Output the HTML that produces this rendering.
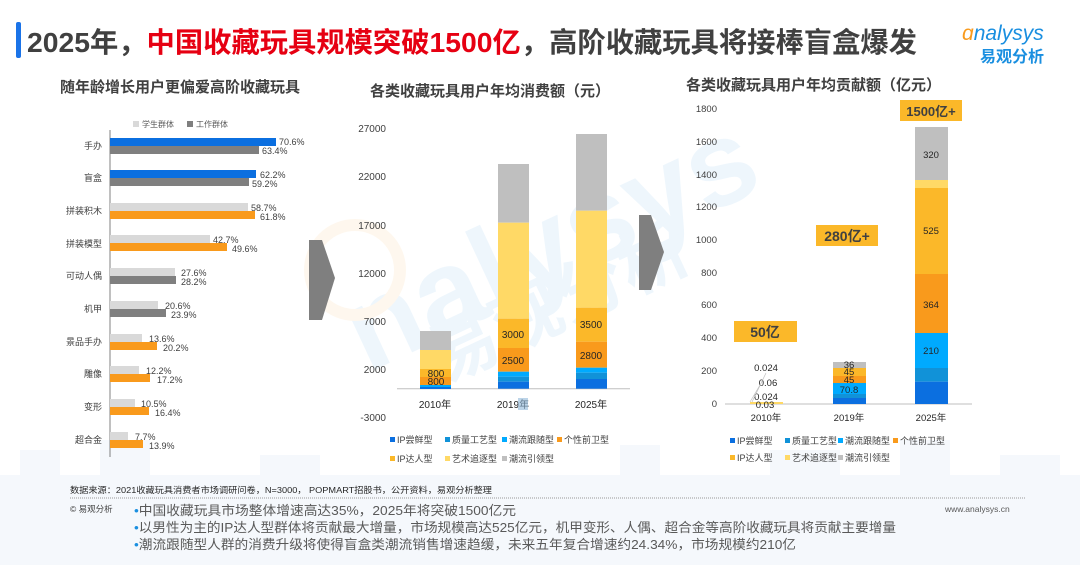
<!DOCTYPE html>
<html><head><meta charset="utf-8"><style>
body{margin:0;width:1080px;height:565px;background:#fff;overflow:hidden;font-family:"Liberation Sans","Noto Sans CJK SC",sans-serif;}
svg{position:absolute;left:0;top:0}
text{font-family:"Liberation Sans","Noto Sans CJK SC",sans-serif}
</style></head><body>
<svg width="1080" height="565" viewBox="0 0 1080 565">
<!-- background buildings -->
<g fill="#f5f8fc">
<rect x="0" y="475" width="1080" height="90"/>
<rect x="20" y="450" width="40" height="25"/><rect x="100" y="440" width="50" height="35"/>
<rect x="260" y="455" width="60" height="20"/><rect x="620" y="445" width="40" height="30"/>
<rect x="770" y="450" width="70" height="25"/><rect x="900" y="440" width="50" height="35"/><rect x="1000" y="455" width="60" height="20"/>
</g>
<!-- watermark -->
<g opacity="0.07">
<text x="330" y="315" font-size="120" font-weight="bold" fill="#1a8fe0" transform="rotate(-25 480 260)">nalysys</text>
<text x="410" y="360" font-size="70" font-weight="bold" fill="#1a8fe0" transform="rotate(-25 480 300)">易观分析</text>
<circle cx="355" cy="270" r="45" fill="none" stroke="#f99a1c" stroke-width="12"/>
</g>
<!-- title -->
<rect x="16" y="22" width="5" height="36" rx="2" fill="#1a73e8"/>
<text x="27" y="52" font-size="28" font-weight="bold" fill="#404040" textLength="890" lengthAdjust="spacingAndGlyphs">2025年，<tspan fill="#e60012">中国收藏玩具规模突破1500亿</tspan>，高阶收藏玩具将接棒盲盒爆发</text>
<!-- logo -->
<text x="962" y="40" font-size="21" font-style="italic" fill="#1a8fe0"><tspan fill="#f99a1c">ɑ</tspan>nalysys</text>
<text x="980" y="62" font-size="16" font-weight="bold" fill="#1a8fe0">易观分析</text>
<!-- subtitles -->
<text x="60" y="92" font-size="15" font-weight="bold" fill="#404040">随年龄增长用户更偏爱高阶收藏玩具</text>
<text x="370" y="96" font-size="15" font-weight="bold" fill="#404040">各类收藏玩具用户年均消费额（元）</text>
<text x="686" y="90" font-size="15" font-weight="bold" fill="#404040">各类收藏玩具用户年均贡献额（亿元）</text>

<!-- LEFT CHART -->
<rect x="133" y="121" width="6" height="6" fill="#d9d9d9"/><text x="142" y="127" font-size="8" fill="#595959">学生群体</text>
<rect x="187" y="121" width="6" height="6" fill="#7f7f7f"/><text x="196" y="127" font-size="8" fill="#595959">工作群体</text>
<line x1="110" y1="130" x2="110" y2="457" stroke="#808080" stroke-width="1"/>
<g font-size="9" fill="#404040">
<g text-anchor="end">
<text x="102" y="149">手办</text><text x="102" y="181">盲盒</text><text x="102" y="214">拼装积木</text><text x="102" y="247">拼装模型</text><text x="102" y="279">可动人偶</text><text x="102" y="312">机甲</text><text x="102" y="345">景品手办</text><text x="102" y="377">雕像</text><text x="102" y="410">变形</text><text x="102" y="443">超合金</text>
</g>
<rect x="110" y="138" width="166" height="8" fill="#0b6fe0"/><rect x="110" y="146" width="149" height="8" fill="#7f7f7f"/>
<text x="279" y="145" font-size="9">70.6%</text><text x="262" y="154" font-size="9">63.4%</text>
<rect x="110" y="170" width="146" height="8" fill="#0b6fe0"/><rect x="110" y="178" width="139" height="8" fill="#7f7f7f"/>
<text x="260" y="178">62.2%</text><text x="252" y="187">59.2%</text>
<rect x="110" y="203" width="138" height="8" fill="#d9d9d9"/><rect x="110" y="211" width="145" height="8" fill="#f99a1c"/>
<text x="251" y="211">58.7%</text><text x="260" y="220">61.8%</text>
<rect x="110" y="235" width="100" height="8" fill="#d9d9d9"/><rect x="110" y="243" width="117" height="8" fill="#f99a1c"/>
<text x="213" y="243">42.7%</text><text x="232" y="252">49.6%</text>
<rect x="110" y="268" width="65" height="8" fill="#d9d9d9"/><rect x="110" y="276" width="66" height="8" fill="#7f7f7f"/>
<text x="181" y="276">27.6%</text><text x="181" y="285">28.2%</text>
<rect x="110" y="301" width="48" height="8" fill="#d9d9d9"/><rect x="110" y="309" width="56" height="8" fill="#7f7f7f"/>
<text x="165" y="309">20.6%</text><text x="171" y="318">23.9%</text>
<rect x="110" y="334" width="32" height="8" fill="#d9d9d9"/><rect x="110" y="342" width="47" height="8" fill="#f99a1c"/>
<text x="149" y="342">13.6%</text><text x="163" y="351">20.2%</text>
<rect x="110" y="366" width="29" height="8" fill="#d9d9d9"/><rect x="110" y="374" width="40" height="8" fill="#f99a1c"/>
<text x="146" y="374">12.2%</text><text x="157" y="383">17.2%</text>
<rect x="110" y="399" width="25" height="8" fill="#d9d9d9"/><rect x="110" y="407" width="39" height="8" fill="#f99a1c"/>
<text x="141" y="407">10.5%</text><text x="155" y="416">16.4%</text>
<rect x="110" y="432" width="18" height="8" fill="#d9d9d9"/><rect x="110" y="440" width="33" height="8" fill="#f99a1c"/>
<text x="135" y="440">7.7%</text><text x="149" y="449">13.9%</text>
</g>

<!-- arrows -->
<polygon points="309,240 322,240 335,278 322,320 309,320" fill="#7f7f7f"/>
<polygon points="639,215 651,215 664,252 651,290 639,290" fill="#7f7f7f"/>

<!-- MIDDLE CHART -->
<g font-size="10" fill="#404040" text-anchor="end">
<text x="386" y="132">27000</text><text x="386" y="180">22000</text><text x="386" y="229">17000</text><text x="386" y="277">12000</text><text x="386" y="325">7000</text><text x="386" y="373">2000</text><text x="386" y="421">-3000</text>
</g>
<line x1="397" y1="388.7" x2="630" y2="388.7" stroke="#bfbfbf"/>
<rect x="420" y="331" width="31" height="19" fill="#bfbfbf"/>
<rect x="420" y="350" width="31" height="19" fill="#ffd966"/>
<rect x="420" y="369" width="31" height="8" fill="#fbb829"/>
<rect x="420" y="377" width="31" height="8" fill="#f99a1c"/>
<rect x="420" y="385" width="31" height="2" fill="#00aaff"/>
<rect x="420" y="387" width="31" height="2" fill="#0b6fe0"/>
<rect x="498" y="164" width="31" height="58.7" fill="#bfbfbf"/>
<rect x="498" y="222.7" width="31" height="96" fill="#ffd966"/>
<rect x="498" y="318.7" width="31" height="29.3" fill="#fbb829"/>
<rect x="498" y="348" width="31" height="23.7" fill="#f99a1c"/>
<rect x="498" y="371.7" width="31" height="5" fill="#00aaff"/>
<rect x="498" y="376.7" width="31" height="5" fill="#1192d8"/>
<rect x="498" y="381.7" width="31" height="7" fill="#0b6fe0"/>
<rect x="576" y="134" width="31" height="76.7" fill="#bfbfbf"/>
<rect x="576" y="210.7" width="31" height="97" fill="#ffd966"/>
<rect x="576" y="307.7" width="31" height="34" fill="#fbb829"/>
<rect x="576" y="341.7" width="31" height="26" fill="#f99a1c"/>
<rect x="576" y="367.7" width="31" height="5" fill="#00aaff"/>
<rect x="576" y="372.7" width="31" height="6.3" fill="#1192d8"/>
<rect x="576" y="379" width="31" height="9.7" fill="#0b6fe0"/>
<g font-size="10" fill="#262626" text-anchor="middle">
<text x="436" y="377">800</text><text x="436" y="385">800</text>
<text x="513" y="338">3000</text><text x="513" y="364">2500</text>
<text x="591" y="328">3500</text><text x="591" y="359">2800</text>
<text x="435" y="408">2010年</text><text x="513" y="408">2019年</text><text x="591" y="408">2025年</text>
</g>
<rect x="518" y="398" width="10" height="12" fill="#8fb8d8" opacity="0.6"/>
<g font-size="9" fill="#404040">
<rect x="390" y="437" width="5" height="5" fill="#0b6fe0"/><text x="397" y="443">IP尝鲜型</text>
<rect x="445" y="437" width="5" height="5" fill="#1192d8"/><text x="452" y="443">质量工艺型</text>
<rect x="502" y="437" width="5" height="5" fill="#00aaff"/><text x="509" y="443">潮流跟随型</text>
<rect x="557" y="437" width="5" height="5" fill="#f99a1c"/><text x="564" y="443">个性前卫型</text>
<rect x="390" y="456" width="5" height="5" fill="#fbb829"/><text x="397" y="462">IP达人型</text>
<rect x="445" y="456" width="5" height="5" fill="#ffd966"/><text x="452" y="462">艺术追逐型</text>
<rect x="502" y="456" width="5" height="5" fill="#bfbfbf"/><text x="509" y="462">潮流引领型</text>
</g>

<!-- RIGHT CHART -->
<g font-size="9.5" fill="#404040" text-anchor="end">
<text x="717" y="112">1800</text><text x="717" y="145">1600</text><text x="717" y="178">1400</text><text x="717" y="210">1200</text><text x="717" y="243">1000</text><text x="717" y="276">800</text><text x="717" y="308">600</text><text x="717" y="341">400</text><text x="717" y="374">200</text><text x="717" y="407">0</text>
</g>
<line x1="725" y1="404" x2="972" y2="404" stroke="#bfbfbf"/>
<rect x="750" y="402" width="33" height="2" fill="#ffd966"/>
<rect x="833" y="362" width="33" height="6" fill="#bfbfbf"/>
<rect x="833" y="368" width="33" height="8" fill="#fbb829"/>
<rect x="833" y="376" width="33" height="7" fill="#f99a1c"/>
<rect x="833" y="383" width="33" height="11" fill="#00aaff"/>
<rect x="833" y="394" width="33" height="4" fill="#1192d8"/>
<rect x="833" y="398" width="33" height="6" fill="#0b6fe0"/>
<rect x="915" y="127" width="33" height="53" fill="#bfbfbf"/>
<rect x="915" y="180" width="33" height="8" fill="#ffd966"/>
<rect x="915" y="188" width="33" height="86" fill="#fbb829"/>
<rect x="915" y="274" width="33" height="59" fill="#f99a1c"/>
<rect x="915" y="333" width="33" height="35" fill="#00aaff"/>
<rect x="915" y="368" width="33" height="13.7" fill="#1192d8"/>
<rect x="915" y="381.7" width="33" height="22.3" fill="#0b6fe0"/>
<g font-size="9.5" fill="#262626" text-anchor="middle">
<text x="931" y="158">320</text><text x="931" y="234">525</text><text x="931" y="308">364</text><text x="931" y="354">210</text>
<text x="849" y="368">36</text><text x="849" y="375">45</text><text x="849" y="383">45</text><text x="849" y="393">70.8</text>
<text x="766" y="371">0.024</text><text x="768" y="386">0.06</text><text x="766" y="400">0.024</text><text x="765" y="408">0.03</text>
<text x="766" y="421">2010年</text><text x="849" y="421">2019年</text><text x="931" y="421">2025年</text>
</g>
<line x1="750" y1="402" x2="760" y2="385" stroke="#bfbfbf" stroke-width="0.7"/>
<line x1="752" y1="402" x2="766" y2="373" stroke="#bfbfbf" stroke-width="0.7"/>
<rect x="734" y="321" width="63" height="21" fill="#fbb829"/><text x="765" y="337" font-size="14" font-weight="bold" fill="#404040" text-anchor="middle">50亿</text>
<rect x="816" y="225" width="62" height="21" fill="#fbb829"/><text x="847" y="241" font-size="14" font-weight="bold" fill="#404040" text-anchor="middle">280亿+</text>
<rect x="900" y="100" width="62" height="21" fill="#fbb829"/><text x="931" y="116" font-size="13" font-weight="bold" fill="#404040" text-anchor="middle">1500亿+</text>
<g font-size="9" fill="#404040">
<rect x="730" y="438" width="5" height="5" fill="#0b6fe0"/><text x="737" y="444">IP尝鲜型</text>
<rect x="785" y="438" width="5" height="5" fill="#1192d8"/><text x="792" y="444">质量工艺型</text>
<rect x="838" y="438" width="5" height="5" fill="#00aaff"/><text x="845" y="444">潮流跟随型</text>
<rect x="893" y="438" width="5" height="5" fill="#f99a1c"/><text x="900" y="444">个性前卫型</text>
<rect x="730" y="455" width="5" height="5" fill="#fbb829"/><text x="737" y="461">IP达人型</text>
<rect x="785" y="455" width="5" height="5" fill="#ffd966"/><text x="792" y="461">艺术追逐型</text>
<rect x="838" y="455" width="5" height="5" fill="#bfbfbf"/><text x="845" y="461">潮流引领型</text>
</g>

<!-- FOOTER -->
<text x="70" y="493" font-size="8.5" fill="#262626" textLength="422" lengthAdjust="spacingAndGlyphs">数据来源：2021收藏玩具消费者市场调研问卷，N=3000， POPMART招股书，公开资料，易观分析整理</text>
<line x1="70" y1="498" x2="1025" y2="498" stroke="#999" stroke-width="1" stroke-dasharray="1,1"/>
<text x="70" y="512" font-size="8.5" fill="#404040">© 易观分析</text>
<text x="945" y="512" font-size="8.5" fill="#595959">www.analysys.cn</text>
<g font-size="13" fill="#595959">
<text x="134" y="515" textLength="382" lengthAdjust="spacingAndGlyphs"><tspan fill="#1a8fe0">•</tspan>中国收藏玩具市场整体增速高达35%，2025年将突破1500亿元</text>
<text x="134" y="532" textLength="762" lengthAdjust="spacingAndGlyphs"><tspan fill="#1a8fe0">•</tspan>以男性为主的IP达人型群体将贡献最大增量，市场规模高达525亿元，机甲变形、人偶、超合金等高阶收藏玩具将贡献主要增量</text>
<text x="134" y="549" textLength="662" lengthAdjust="spacingAndGlyphs"><tspan fill="#1a8fe0">•</tspan>潮流跟随型人群的消费升级将使得盲盒类潮流销售增速趋缓，未来五年复合增速约24.34%，市场规模约210亿</text>
</g>
</svg>
</body></html>
